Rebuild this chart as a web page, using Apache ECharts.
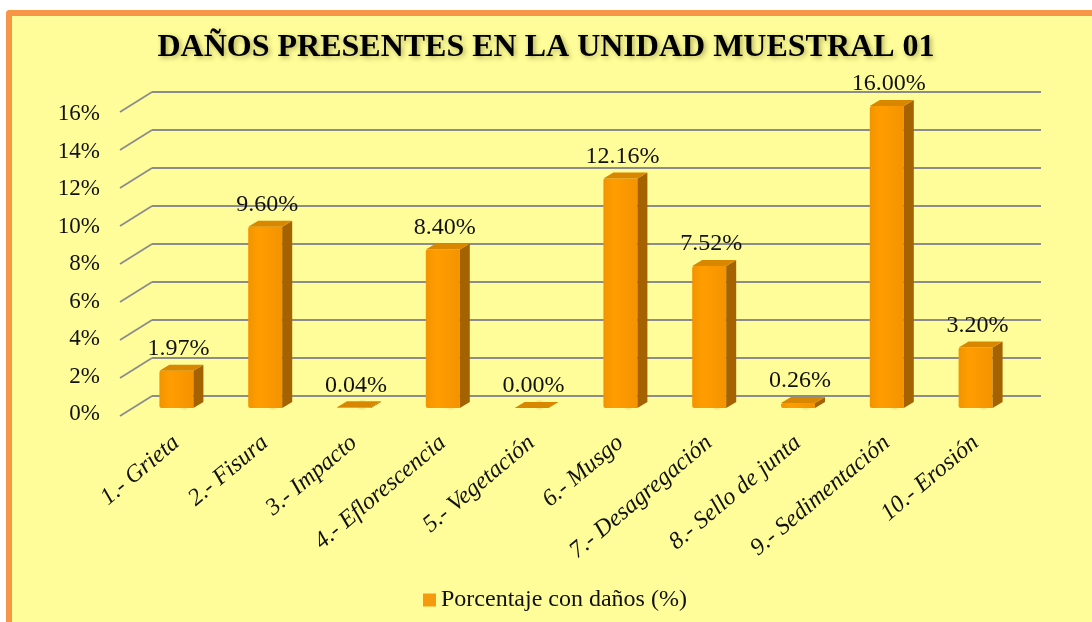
<!DOCTYPE html>
<html>
<head>
<meta charset="utf-8">
<title>Daños presentes en la unidad muestral 01</title>
<script src="https://cdn.jsdelivr.net/npm/echarts@6/dist/echarts.min.js"></script>
<style>
  html, body { margin: 0; padding: 0; background: #fff; overflow: hidden; }
  #frame {
    position: absolute; left: 6px; top: 10px; width: 1110px; height: 640px;
    background: #FFFD99; border-left: 6px solid #F79646; border-top: 6px solid #F79646;
    border-top-left-radius: 4px;
  }
  #chart { position: absolute; left: 0; top: 0; width: 1092px; height: 622px; }
</style>
</head>
<body>
<div id="frame"></div>
<div id="chart"></div>
<script>
// datos
const categories = [
  "1.- Grieta", "2.- Fisura", "3.- Impacto", "4.- Eflorescencia", "5.- Vegetación",
  "6.- Musgo", "7.- Desagregación", "8.- Sello de junta", "9.- Sedimentación", "10.- Erosión"
];
const porcentajes = [1.97, 9.60, 0.04, 8.40, 0.00, 12.16, 7.52, 0.26, 16.00, 3.20];
const yTicks = [0, 2, 4, 6, 8, 10, 12, 14, 16];
const seriesName = "Porcentaje con daños (%)";

const serif = '"Liberation Serif", "Times New Roman", serif';
const chart = echarts.init(document.getElementById("chart"));

// barra "3D": cara frontal, lateral y superior
const renderBar = (params, api) => {
  const i = api.value(0);
  const v = api.value(1);
  const base = api.coord([i, 0]);
  const top = api.coord([i, v]);
  const c = base[0];
  const w = 17, d = 10, h = 6;
  const y0 = base[1], y1 = top[1];
  return {
    type: "group",
    children: [
      {
        type: "ellipse",
        shape: { cx: c + 8, cy: y0 - 3, rx: 44, ry: 6 },
        style: {
          fill: new echarts.graphic.RadialGradient(0.5, 0.5, 0.5, [
            { offset: 0, color: "rgba(120,120,40,0.35)" },
            { offset: 1, color: "rgba(120,120,40,0)" }
          ])
        }
      },
      {
        type: "rect",
        shape: { x: c - w, y: y1, width: 2 * w, height: Math.max(y0 - y1, 0), r: [2, 0, 0, 2] },
        style: {
          fill: new echarts.graphic.LinearGradient(0, 0, 1, 0, [
            { offset: 0, color: "#F29400" },
            { offset: 0.3, color: "#FF9D00" },
            { offset: 1, color: "#F59300" }
          ])
        }
      },
      {
        type: "polygon",
        shape: { points: [[c + w, y1], [c + w + d, y1 - h], [c + w + d, y0 - h], [c + w, y0]] },
        style: { fill: "#A46200" }
      },
      {
        type: "polygon",
        shape: { points: [[c - w, y1], [c + w, y1], [c + w + d, y1 - h], [c - w + d, y1 - h]] },
        style: { fill: "#D98700" }
      },
      {
        type: "text",
        style: {
          x: c + 2,
          y: y1 - h - 4,
          text: v.toFixed(2) + "%",
          align: "center",
          verticalAlign: "bottom",
          fontFamily: serif,
          fontSize: 24,
          fill: "#111"
        }
      }
    ]
  };
};

// tramos inclinados a la izquierda de las líneas de la cuadrícula
const renderSlant = (params, api) => {
  const p = api.coord([0, api.value(0)]);
  return {
    type: "line",
    shape: { x1: p[0], y1: p[1], x2: p[0] - 32, y2: p[1] + 20 },
    style: { stroke: "#8C8C8C", lineWidth: 1.8 }
  };
};

const option = {
  backgroundColor: "transparent",
  animation: false,
  title: {
    text: "DAÑOS PRESENTES EN LA UNIDAD MUESTRAL 01",
    left: "center",
    top: 27,
    textStyle: {
      fontFamily: serif,
      fontWeight: "bold",
      fontSize: 32,
      color: "#000",
      textShadowColor: "rgba(60,60,0,0.4)",
      textShadowBlur: 5,
      textShadowOffsetX: 2,
      textShadowOffsetY: 2
    }
  },
  legend: {
    data: [seriesName],
    left: 418,
    top: 583,
    itemWidth: 13,
    itemHeight: 13,
    itemGap: 6,
    icon: "rect",
    textStyle: { fontFamily: serif, fontSize: 24, color: "#111" }
  },
  grid: [
    // plano trasero (cuadrícula)
    { left: 152, right: 51, top: 92, bottom: 226 },
    // plano de las barras
    { left: 132, right: 72, top: 106, bottom: 214 },
    // plano frontal (etiquetas del eje Y)
    { left: 120, right: 83, top: 114, bottom: 208 }
  ],
  xAxis: [
    { gridIndex: 0, type: "value", min: 0, max: 1, show: false },
    {
      gridIndex: 1,
      type: "category",
      data: categories,
      axisLine: { show: false },
      axisTick: { show: false },
      axisLabel: {
        rotate: 40,
        margin: 32,
        fontFamily: serif,
        fontStyle: "italic",
        fontSize: 24,
        color: "#111",
        interval: 0
      }
    },
    { gridIndex: 2, type: "value", min: 0, max: 1, show: false }
  ],
  yAxis: [
    {
      gridIndex: 0,
      type: "value",
      min: 0,
      max: 16,
      interval: 2,
      axisLabel: { show: false },
      axisLine: { show: false },
      axisTick: { show: false },
      splitLine: { lineStyle: { color: "#8C8C8C", width: 1.8 } }
    },
    {
      gridIndex: 1,
      type: "value",
      min: 0,
      max: 16,
      interval: 2,
      show: false,
      splitLine: { show: false }
    },
    {
      gridIndex: 2,
      type: "value",
      min: 0,
      max: 16,
      interval: 2,
      axisLine: { show: false },
      axisTick: { show: false },
      splitLine: { show: false },
      axisLabel: {
        margin: 20,
        fontFamily: serif,
        fontSize: 23,
        color: "#111",
        formatter: val => val + "%"
      }
    }
  ],
  series: [
    {
      type: "custom",
      xAxisIndex: 0,
      yAxisIndex: 0,
      silent: true,
      renderItem: renderSlant,
      data: yTicks.map(t => [t]),
      encode: { y: 0 }
    },
    {
      name: seriesName,
      type: "custom",
      xAxisIndex: 1,
      yAxisIndex: 1,
      itemStyle: { color: "#F59A0C" },
      renderItem: renderBar,
      data: porcentajes.map((v, i) => [i, v]),
      encode: { x: 0, y: 1 }
    }
  ]
};

chart.setOption(option);
window.addEventListener("resize", () => chart.resize());
</script>
</body>
</html>
